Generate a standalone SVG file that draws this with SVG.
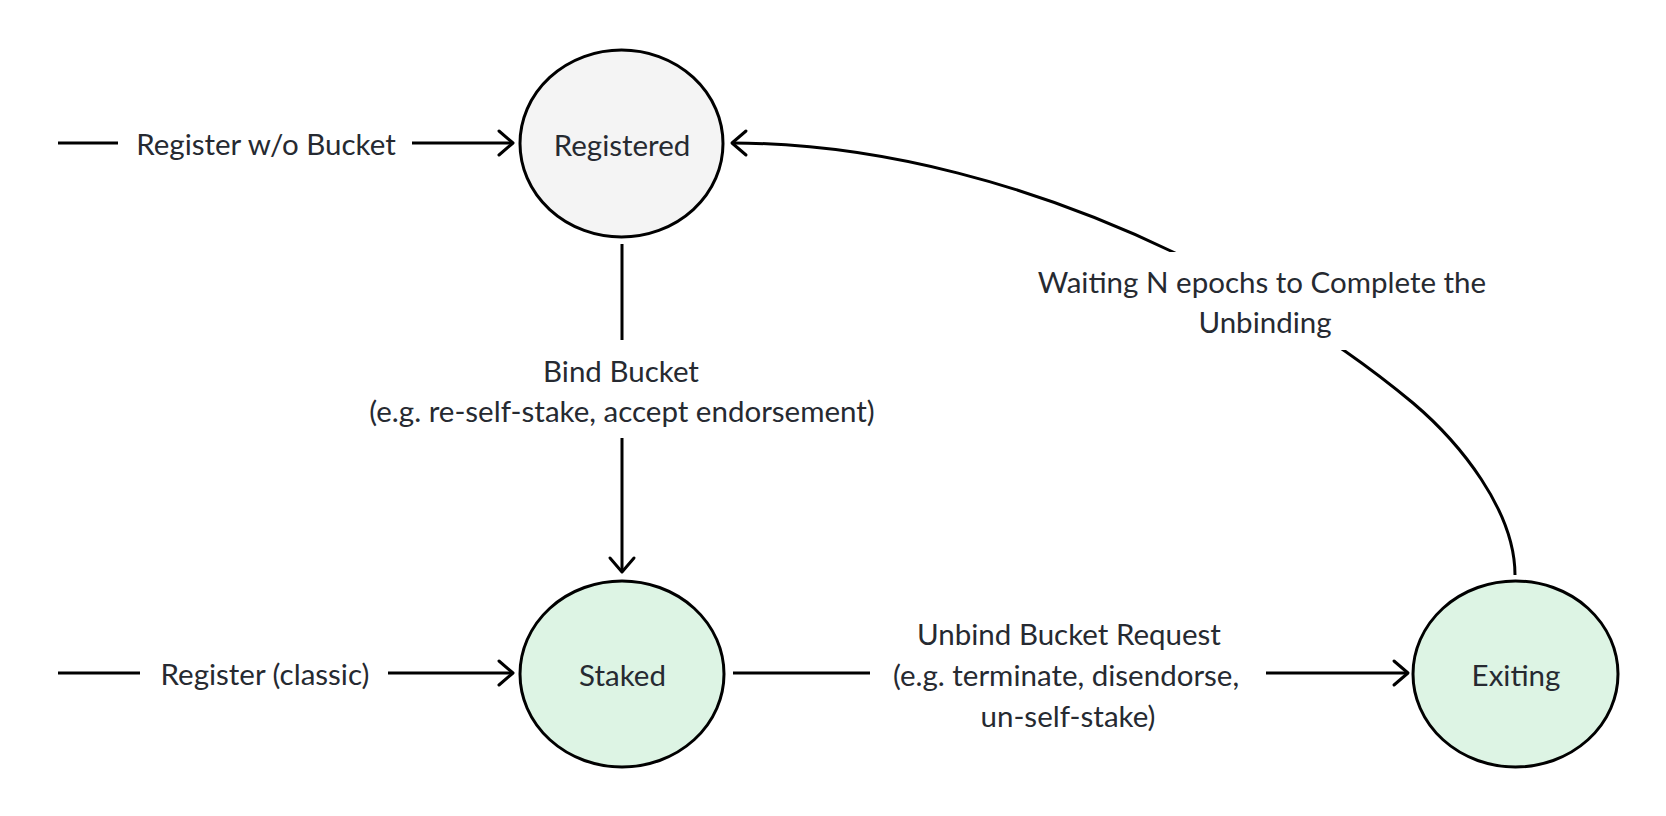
<svg xmlns="http://www.w3.org/2000/svg" width="1666" height="816" viewBox="0 0 1666 816">
  <style>
    .node { stroke: #000; stroke-width: 3; }
    .reg { fill: #f4f4f4; }
    .grn { fill: #ddf4e4; }
    .lbl { font-family: Lato, "Noto Sans", "Liberation Sans", sans-serif; font-size: 29.5px; fill: #262a31; text-anchor: middle; }
    .edge { fill: none; stroke: #000; stroke-width: 3; }
    .bg { fill: #fff; }
  </style>
  <defs>
    <marker id="arr" markerUnits="userSpaceOnUse" markerWidth="40" markerHeight="40" viewBox="-20 -20 40 40" refX="0" refY="0" orient="auto" overflow="visible">
      <path d="M-14,-12 L0,0 L-14,12" fill="none" stroke="#000" stroke-width="3" stroke-linecap="round" stroke-linejoin="round"/>
    </marker>
  </defs>
  <rect width="1666" height="816" fill="#fff"/>

  <g id="connectors">
    <g id="e-register-wo">
      <path class="edge" d="M58,143 L513,143" marker-end="url(#arr)"/>
      <rect class="bg" x="118" y="126" width="294" height="36"/>
      <text class="lbl" x="266" y="155">Register w/o Bucket</text>
    </g>
    <g id="e-register-classic">
      <path class="edge" d="M58,673 L513,673" marker-end="url(#arr)"/>
      <rect class="bg" x="140" y="656" width="248" height="36"/>
      <text class="lbl" x="265" y="685">Register (classic)</text>
    </g>
    <g id="e-bind">
      <path class="edge" d="M622,244 L622,572" marker-end="url(#arr)"/>
      <rect class="bg" x="355" y="340" width="534" height="98"/>
      <text class="lbl" x="621" y="382">Bind Bucket</text>
      <text class="lbl" x="622" y="422">(e.g. re-self-stake, accept endorsement)</text>
    </g>
    <g id="e-unbind">
      <path class="edge" d="M733,673 L1408,673" marker-end="url(#arr)"/>
      <rect class="bg" x="870" y="612" width="396" height="126"/>
      <text class="lbl" x="1069" y="645">Unbind Bucket Request</text>
      <text class="lbl" x="1066" y="686">(e.g. terminate, disendorse,</text>
      <text class="lbl" x="1068" y="727">un-self-stake)</text>
    </g>
    <g id="e-waiting">
      <path class="edge" d="M1515,575 C1515,510 1459,442 1413,403 C1340,342 1259,293 1173,252 C1038,187 882,143 732,143" marker-end="url(#arr)"/>
      <rect class="bg" x="1030" y="252" width="465" height="98"/>
      <text class="lbl" x="1262" y="293">Waiting N epochs to Complete the</text>
      <text class="lbl" x="1265" y="333">Unbinding</text>
    </g>
  </g>

  <g id="registered">
    <ellipse class="node reg" cx="621.5" cy="143.5" rx="101.5" ry="93.5"/>
    <text class="lbl" x="622" y="156">Registered</text>
  </g>
  <g id="staked">
    <ellipse class="node grn" cx="622" cy="674" rx="102" ry="93"/>
    <text class="lbl" x="622.5" y="686">Staked</text>
  </g>
  <g id="exiting">
    <ellipse class="node grn" cx="1515.5" cy="674" rx="102.5" ry="93"/>
    <text class="lbl" x="1516" y="686">Exiting</text>
  </g>
</svg>
